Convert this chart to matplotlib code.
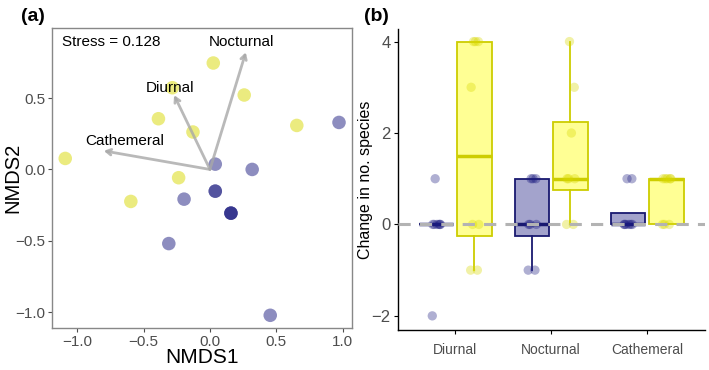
import matplotlib
matplotlib.use("Agg")
import matplotlib.pyplot as plt
import numpy as np

plt.rcParams['font.family'] = ['Liberation Sans', 'DejaVu Sans']

# ---------- Panel (a) data: NMDS scores ----------
yellow_x = [0.025, -0.283, 0.258, -0.388, -0.128, 0.654, -1.09, -0.236, -0.596]
yellow_y = [0.745, 0.572, 0.521, 0.355, 0.262, 0.308, 0.077, -0.058, -0.224]
blue_x = [0.972, 0.04, 0.318, -0.195, -0.31, 0.454, 0.04, 0.04, 0.158, 0.158, 0.158]
blue_y = [0.329, 0.037, 0.0, -0.208, -0.519, -1.021, -0.152, -0.152, -0.306, -0.306, -0.306]
vec_names = ["Nocturnal", "Diurnal", "Cathemeral"]
vec_x = [0.27, -0.27, -0.80]
vec_y = [0.82, 0.52, 0.13]
stress = 0.128

# ---------- Panel (b) data: change in no. species ----------
categories = ["Diurnal", "Nocturnal", "Cathemeral"]
blue_vals = [[-2, 0, 0, 0, 0, 0, 0, 1],
             [-1, -1, 0, 0, 0, 1, 1, 1],
             [0, 0, 0, 0, 0, 0, 1, 1]]
yellow_vals = [[-1, -1, 0, 0, 3, 4, 4, 4],
               [0, 0, 1, 1, 1, 2, 3, 4],
               [0, 0, 0, 1, 1, 1, 1, 1]]

BLUE = '#191970'
YEL = '#cdcd00'
BLUE_PT = '#1c1c80'
YEL_PT = '#d8d800'

fig = plt.figure(figsize=(7.09, 3.70), dpi=100)

# ----- (a) -----
axa = fig.add_axes([0.0733, 0.1135, 0.4232, 0.8108])
axa.scatter(yellow_x, yellow_y, s=95, color=YEL_PT, alpha=0.5, edgecolors='none', zorder=3)
axa.scatter(blue_x, blue_y, s=95, color=BLUE_PT, alpha=0.5, edgecolors='none', zorder=3)
label_pos = {"Nocturnal": (0.24, 0.89), "Diurnal": (-0.30, 0.572), "Cathemeral": (-0.64, 0.20)}
for n, vx, vy in zip(vec_names, vec_x, vec_y):
    axa.annotate('', xy=(vx, vy), xytext=(0, 0),
                 arrowprops=dict(arrowstyle='->,head_length=0.35,head_width=0.2',
                                 color='#a8a8a8', lw=2.0, alpha=0.8, shrinkA=0, shrinkB=0),
                 zorder=4)
    lx, ly = label_pos[n]
    axa.text(lx, ly, n, ha='center', va='center', fontsize=11, color='black', zorder=5)
axa.text(-1.115, 0.89, f"Stress = {stress}", ha='left', va='center', fontsize=11)
axa.set_xlim(-1.19, 1.07)
axa.set_ylim(-1.11, 0.99)
axa.set_xticks([-1.0, -0.5, 0.0, 0.5, 1.0])
axa.set_yticks([-1.0, -0.5, 0.0, 0.5])
axa.set_xticklabels(['\u22121.0', '\u22120.5', '0.0', '0.5', '1.0'])
axa.set_yticklabels(['\u22121.0', '\u22120.5', '0.0', '0.5'])
axa.tick_params(colors='#4d4d4d', labelsize=11, length=3, width=0.8, pad=2)
for sp in axa.spines.values():
    sp.set_color('#888888')
    sp.set_linewidth(1.0)
axa.set_xlabel('NMDS1', fontsize=15, labelpad=-1)
axa.set_ylabel('NMDS2', fontsize=14.5)
axa.yaxis.set_label_coords(-0.10, 0.5)
fig.text(0.03, 0.955, '(a)', fontsize=14, fontweight='bold', va='center')

# ----- (b) -----
axb = fig.add_axes([0.561, 0.108, 0.433, 0.813])
pos = np.arange(len(categories))
off = 0.2
width = 0.36
jit = [-0.04, 0.03, -0.02, 0.045, -0.035, 0.01, 0.04, -0.01]

def draw_box(vals_list, positions, edge, fill, ptcol):
    axb.boxplot(vals_list, positions=positions, widths=width, patch_artist=True,
                showfliers=False, whis=1.5, manage_ticks=False,
                boxprops=dict(facecolor=fill, edgecolor=edge, linewidth=1.3),
                whiskerprops=dict(color=edge, linewidth=1.3),
                capprops=dict(linewidth=0),
                medianprops=dict(color=edge, linewidth=2.5))
    for p, vals in zip(positions, vals_list):
        xs = [p + jit[i % len(jit)] for i in range(len(vals))]
        axb.scatter(xs, vals, s=45, color=ptcol, alpha=0.35, edgecolors='none', zorder=4)

draw_box(blue_vals, pos - off, BLUE, (0.1, 0.1, 0.5, 0.4), BLUE_PT)
draw_box(yellow_vals, pos + off, YEL, (1.0, 1.0, 0.0, 0.42), YEL_PT)
axb.axhline(0, color='#b3b3b3', linestyle=(0, (4, 3)), linewidth=2.2, zorder=5)

axb.set_xlim(-0.6, 2.6)
axb.set_ylim(-2.31, 4.27)
axb.set_xticks(pos)
axb.set_xticklabels(categories, fontsize=10, color='#4d4d4d')
axb.set_yticks([-2, 0, 2, 4])
axb.set_yticklabels(['\u22122', '0', '2', '4'])
axb.tick_params(axis='y', colors='#4d4d4d', labelsize=12, length=3, width=0.8, pad=2)
axb.tick_params(axis='x', colors='#4d4d4d', length=3, width=0.8, pad=6)
for s in ['top', 'right']:
    axb.spines[s].set_visible(False)
for s in ['left', 'bottom']:
    axb.spines[s].set_color('black')
    axb.spines[s].set_linewidth(1.0)
axb.tick_params(axis='both', color='black')
axb.set_ylabel('Change in no. species', fontsize=11.5, labelpad=-1)
fig.text(0.514, 0.955, '(b)', fontsize=14, fontweight='bold', va='center')

fig.savefig('out.png', dpi=100)
